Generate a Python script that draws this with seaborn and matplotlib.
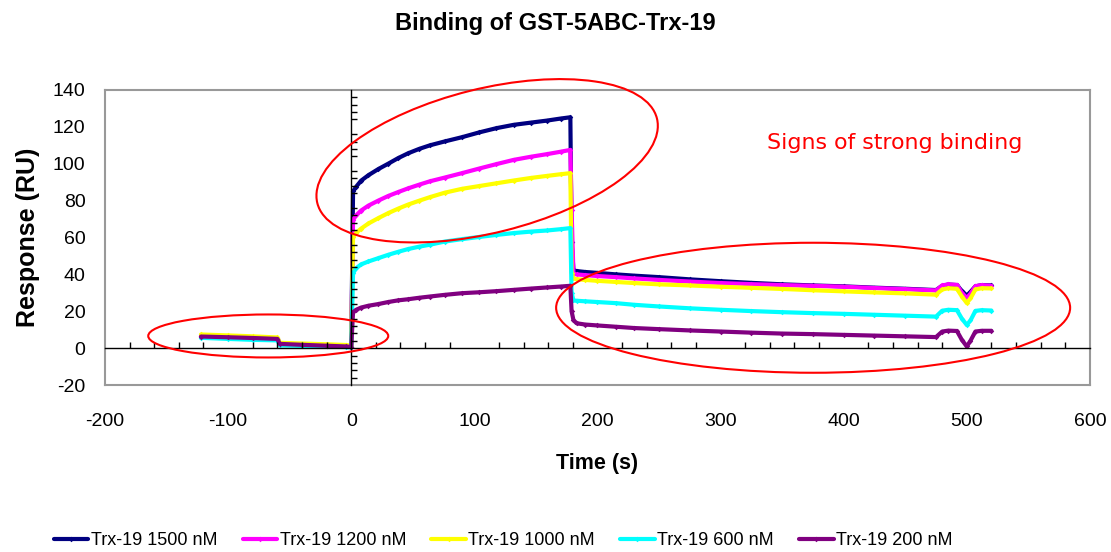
import numpy as np
import pandas as pd
import matplotlib
matplotlib.use("Agg")
import matplotlib.pyplot as plt
import matplotlib.transforms as mtransforms
from matplotlib.patches import Ellipse
from matplotlib.ticker import MultipleLocator
import seaborn as sns

# Sensorgram sample times (s): baseline, association (0-178 s), dissociation
time_s = [-122, -100, -80, -60, -58, -40, -20, -4, 0,
          1.5, 4, 8, 14, 22, 30, 38, 46, 55, 64, 76, 90, 104, 118, 132, 146, 159, 170, 178,
          179, 180.5,
          183, 190, 200, 215, 230, 250, 275, 300, 325, 350, 375, 400, 425, 450, 475,
          480, 485, 492, 496, 500, 503, 507, 512, 520]

resp_1500 = [6.8, 6.3, 5.8, 5.3, 2.5, 2.0, 1.5, 1.0, 0.8,
             85.0, 87.5, 90.8, 93.8, 97.1, 100.0, 103.0, 105.6, 108.0, 110.0, 112.1, 114.4,
             117.0, 119.3, 121.1, 122.3, 123.4, 124.5, 125.2,
             57.8, 42.3,
             41.8, 41.3, 40.8, 40.0, 39.3, 38.5, 37.3, 36.3, 35.4, 34.6, 34.0, 33.5, 32.8,
             32.2, 31.5,
             33.8, 34.5, 34.2, 31.0, 28.5, 30.5, 33.5, 34.2, 34.0]
resp_1200 = [6.6, 6.2, 5.7, 5.2, 2.4, 1.9, 1.5, 1.0, 0.8,
             69.6, 72.0, 74.6, 77.3, 80.0, 82.5, 84.6, 86.6, 88.6, 90.5, 92.5, 94.9,
             97.4, 99.8, 102.1, 103.8, 105.2, 106.5, 107.5,
             75.0, 40.5,
             40.0, 39.6, 39.1, 38.5, 37.8, 37.0, 36.1, 35.3, 34.7, 34.2, 33.8, 33.3, 32.6,
             32.0, 31.3,
             34.0, 34.6, 34.3, 30.0, 27.2, 29.5, 33.6, 34.2, 33.8]
resp_1000 = [7.4, 6.9, 6.4, 5.8, 2.9, 2.5, 2.1, 1.7, 1.3,
             60.5, 62.5, 64.8, 67.6, 70.5, 73.2, 75.6, 77.8, 79.9, 81.9, 84.3, 86.4,
             87.9, 89.4, 90.9, 92.3, 93.4, 94.3, 94.9,
             41.0, 37.8,
             37.4, 37.0, 36.5, 35.9, 35.3, 34.6, 34.0, 33.3, 32.7, 32.1, 31.4, 30.8, 30.2,
             29.7, 29.0,
             31.8, 32.5, 32.2, 28.0, 24.5, 27.0, 31.8, 32.5, 32.4]
resp_600 = [5.6, 5.0, 4.5, 4.2, 1.5, 1.2, 0.9, 0.6, 0.4,
            40.7, 43.3, 45.4, 47.0, 48.8, 50.6, 52.2, 53.7, 55.0, 56.1, 57.8, 59.1,
            60.3, 61.4, 62.4, 63.2, 63.8, 64.5, 65.1,
            30.0, 25.9,
            25.7, 25.4, 25.0, 24.4, 23.5, 22.6, 21.6, 20.8, 20.1, 19.5, 19.0, 18.6, 18.1,
            17.6, 17.1,
            20.3, 20.8, 20.6, 16.0, 12.6, 15.0, 20.2, 20.6, 20.4]
resp_200 = [6.3, 5.9, 5.5, 5.0, 2.3, 1.8, 1.3, 0.9, 0.6,
            19.5, 20.8, 22.0, 23.0, 23.9, 25.0, 25.9, 26.5, 27.3, 28.0, 28.9, 29.8,
            30.3, 30.9, 31.6, 32.3, 32.9, 33.4, 33.8,
            20.0, 15.3,
            13.5, 12.8, 12.3, 11.6, 10.9, 10.3, 9.6, 9.0, 8.4, 7.9, 7.6, 7.2, 6.8,
            6.4, 6.0,
            9.0, 9.5, 9.3, 4.5, 0.9, 4.0, 9.0, 9.4, 9.4]

series_names = ["Trx-19 1500 nM", "Trx-19 1200 nM", "Trx-19 1000 nM",
                "Trx-19 600 nM", "Trx-19 200 nM"]
series_values = [resp_1500, resp_1200, resp_1000, resp_600, resp_200]
series_colors = ["#000080", "#FF00FF", "#FFFF00", "#00FFFF", "#800080"]

x_ticks = [-200, -100, 0, 100, 200, 300, 400, 500, 600]
y_ticks = [-20, 0, 20, 40, 60, 80, 100, 120, 140]

sns.set_theme(style="white")
plt.rcParams["font.family"] = ["Liberation Sans", "DejaVu Sans"]
plt.rcParams["axes.unicode_minus"] = False
plt.rcParams["text.color"] = "black"
plt.rcParams["axes.labelcolor"] = "black"
plt.rcParams["xtick.color"] = "black"
plt.rcParams["ytick.color"] = "black"

fig = plt.figure(figsize=(11.11, 5.52), dpi=100)
ax = fig.add_axes([0.0945, 0.3025, 0.8865, 0.5345])

frames = []
for name, vals in zip(series_names, series_values):
    frames.append(pd.DataFrame({"Time (s)": time_s, "Response (RU)": vals, "series": name}))
df = pd.concat(frames, ignore_index=True)

for name, color in zip(series_names, series_colors):
    sns.lineplot(data=df[df["series"] == name], x="Time (s)", y="Response (RU)",
                 color=color, linewidth=3.0, marker="D", markersize=2.8,
                 markeredgewidth=0, label=name, ax=ax, legend=False, zorder=3)

ax.set_xlim(-200, 600)
ax.set_ylim(-20, 140)
ax.set_xticks(x_ticks)
ax.set_yticks(y_ticks)
ax.tick_params(axis="both", length=0, labelsize=14, labelcolor="black")
ax.tick_params(axis="x", pad=20)
ax.tick_params(axis="y", pad=14)
for sp in ax.spines.values():
    sp.set_color("#999999")
    sp.set_linewidth(1.5)
ax.set_xlabel("Time (s)", fontsize=15.5, fontweight="bold", labelpad=17, color="black")
ax.set_ylabel("Response (RU)", fontsize=18, fontweight="bold", labelpad=9, color="black")
ax.set_title("Binding of GST-5ABC-Trx-19", fontsize=17, fontweight="bold", pad=43,
             x=0.457, color="black")

# Axis lines crossing at the origin, with their own tick marks
ax0 = fig.add_axes(ax.get_position(), sharex=ax, sharey=ax)
ax0.patch.set_visible(False)
ax0.spines["left"].set_position(("data", 0))
ax0.spines["bottom"].set_position(("data", 0))
ax0.spines["top"].set_visible(False)
ax0.spines["right"].set_visible(False)
for s in ("left", "bottom"):
    ax0.spines[s].set_color("black")
    ax0.spines[s].set_linewidth(1.0)
ax0.xaxis.set_major_locator(MultipleLocator(100))
ax0.xaxis.set_minor_locator(MultipleLocator(20))
ax0.yaxis.set_major_locator(MultipleLocator(20))
ax0.yaxis.set_minor_locator(MultipleLocator(4))
ax0.tick_params(axis="x", which="major", direction="out", length=6, width=1,
                color="black", labelbottom=False)
ax0.tick_params(axis="x", which="minor", direction="in", length=4, width=1,
                color="black", bottom=True)
ax0.tick_params(axis="y", which="major", direction="inout", length=9, width=1,
                color="black", labelleft=False)
ax0.tick_params(axis="y", which="minor", direction="in", length=4, width=1,
                color="black", left=True)
ax0.set_xlabel("")
ax0.set_ylabel("")

# Red annotation ellipses (centre in data units, size in inches)
def ring(cx, cy, w_in, h_in, angle):
    tr = fig.dpi_scale_trans + mtransforms.ScaledTranslation(cx, cy, ax.transData)
    e = Ellipse((0, 0), w_in, h_in, angle=angle, transform=tr, fill=False,
                edgecolor="#FF0000", linewidth=1.5, clip_on=False, zorder=5)
    fig.add_artist(e)

ring(-67.4, 6.6, 2.40, 0.43, 0)
ring(110.4, 101.6, 3.50, 1.44, 14)
ring(375.2, 21.9, 5.14, 1.30, 0)

ax.text(338, 111.5, "Signs of strong binding", color="#FF0000", fontsize=15.9,
        family="DejaVu Sans", ha="left", va="center", zorder=6)

handles, labels = ax.get_legend_handles_labels()
fig.legend(handles, labels, loc="center", bbox_to_anchor=(0.453, 0.02), ncol=5,
           frameon=False, fontsize=13, handlelength=1.9, handletextpad=0.15,
           columnspacing=1.4, labelcolor="black")

fig.savefig("out.png", dpi=100)
